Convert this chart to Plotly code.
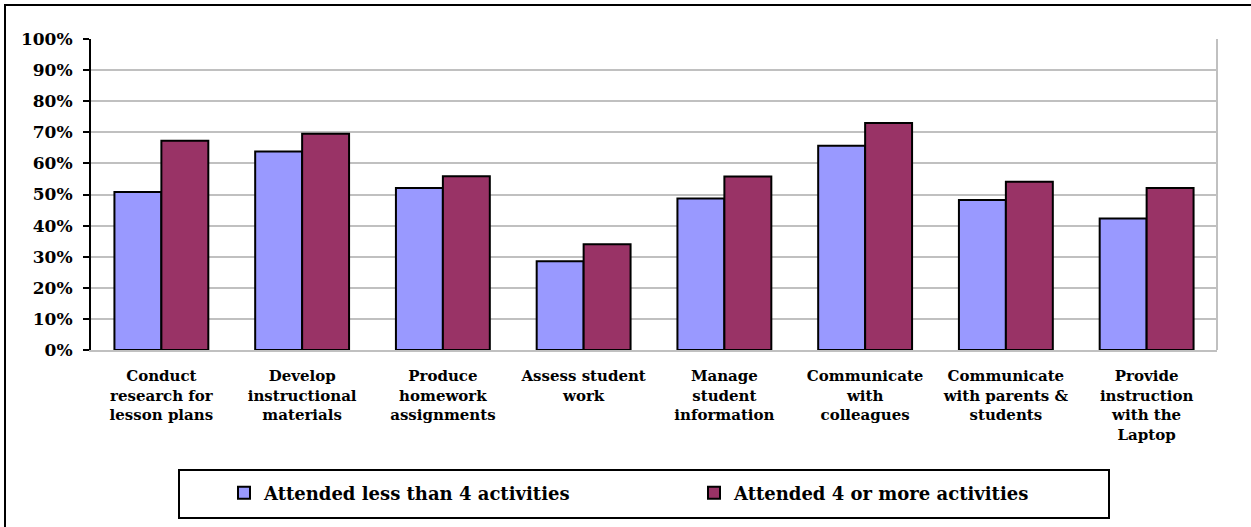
import plotly.graph_objects as go

categories = [
    "Conduct<br>research for<br>lesson plans",
    "Develop<br>instructional<br>materials",
    "Produce<br>homework<br>assignments",
    "Assess student<br>work",
    "Manage<br>student<br>information",
    "Communicate<br>with<br>colleagues",
    "Communicate<br>with parents &<br>students",
    "Provide<br>instruction<br>with the<br>Laptop",
]
less_than_4 = [0.508, 0.638, 0.521, 0.285, 0.487, 0.657, 0.482, 0.423]
four_or_more = [0.673, 0.695, 0.559, 0.340, 0.558, 0.730, 0.541, 0.521]
series_names = ["Attended less than 4 activities", "Attended 4 or more activities"]
y_ticks = [0, 0.1, 0.2, 0.3, 0.4, 0.5, 0.6, 0.7, 0.8, 0.9, 1.0]

W, H = 1251, 527
ML, MR, MT, MB = 91, 34, 39, 177
PW, PH = W - ML - MR, H - MT - MB

font_family = "DejaVu Serif"

fig = go.Figure()
fig.add_trace(go.Bar(
    x=categories, y=less_than_4, name=series_names[0],
    marker=dict(color="#9999FF", line=dict(color="black", width=2)),
))
fig.add_trace(go.Bar(
    x=categories, y=four_or_more, name=series_names[1],
    marker=dict(color="#993366", line=dict(color="black", width=2)),
))

def px_x(p):
    return (p - ML) / PW

def px_y(p):
    return 1 - (p - MT) / PH

fig.update_layout(
    width=W, height=H,
    margin=dict(l=ML, r=MR, t=MT, b=MB, autoexpand=False),
    paper_bgcolor="white", plot_bgcolor="white",
    barmode="group", bargap=0.333, bargroupgap=0,
    font=dict(family=font_family, size=15, color="black", weight="bold"),
    showlegend=True,
    legend=dict(
        orientation="h",
        x=px_x(224), xanchor="left",
        y=px_y(493), yanchor="middle",
        borderwidth=0,
        bgcolor="rgba(0,0,0,0)",
        font=dict(family=font_family, size=18, color="black", weight="bold"),
        entrywidth=425, entrywidthmode="pixels",
        traceorder="normal",
    ),
    xaxis=dict(
        showgrid=False,
        showline=True, linecolor="#C0C0C0", linewidth=2,
        ticks="", tickangle=0,
        ticklabelstandoff=11,
        tickfont=dict(family=font_family, size=15, color="black", weight="bold"),
        mirror=False,
    ),
    yaxis=dict(
        range=[0, 1], tickvals=y_ticks, tickformat=".0%",
        showgrid=True, gridcolor="#C0C0C0", gridwidth=2,
        showline=True, linecolor="black", linewidth=2,
        ticks="outside", ticklen=6, tickwidth=2, tickcolor="black",
        ticklabelstandoff=7,
        tickfont=dict(family=font_family, size=17, color="black", weight="bold"),
        zeroline=False,
    ),
    shapes=[
        # right side of plot area in gray
        dict(type="line", xref="paper", yref="paper", x0=1, x1=1, y0=0, y1=1,
             line=dict(color="#C0C0C0", width=2)),
        # legend frame
        dict(type="rect", xref="paper", yref="paper",
             x0=px_x(179), x1=px_x(1109), y0=px_y(518), y1=px_y(470),
             line=dict(color="black", width=2), layer="above"),
        # outer chart frame (extends beyond the canvas on the right and bottom)
        dict(type="rect", xref="paper", yref="paper",
             x0=px_x(5), x1=px_x(1260), y0=px_y(540), y1=px_y(5),
             line=dict(color="black", width=2), layer="above"),
    ],
)

fig.write_html(
    "out.html",
    config={"displayModeBar": False},
    post_script="document.body.style.margin='0';document.body.style.overflow='hidden';",
)
